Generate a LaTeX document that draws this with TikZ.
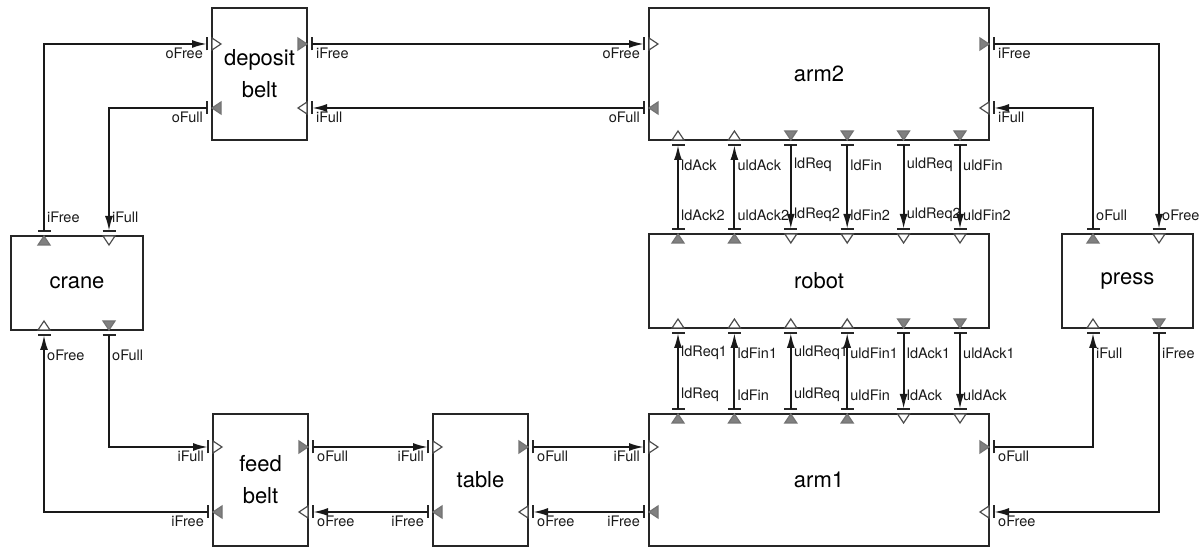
\documentclass[tikz,border=0pt]{standalone}
\usepackage{fontspec}
\setmainfont{TeX Gyre Heros}
\usepackage{tikz}
\usetikzlibrary{arrows.meta,positioning,calc}
\tikzset{
  block/.style={rectangle, draw=black!85, line width=2pt, inner sep=0pt, outer sep=0pt, align=center, font=\fontsize{22}{32}\selectfont},
  armblock/.style={block, minimum width=340pt, minimum height=132pt},
  beltblock/.style={block, minimum width=95pt, minimum height=132pt},
  smallblock/.style={block, minimum width=131pt, minimum height=94pt},
  flow/.style={-{Latex[length=15pt,width=8pt]}, line width=2pt, black!90, shorten <=5pt, shorten >=5pt},
  inport/.style={draw=black!70, fill=white, line width=1.2pt},
  outport/.style={draw=black!55, fill=black!50, line width=1.2pt},
  portbar/.style={draw=black!85, line width=1.6pt},
  plab/.style={font=\fontsize{14.5}{16}\selectfont, inner sep=0pt, text=black!90},
  labw/.style={plab, anchor=north east, xshift=-9pt, yshift=-4pt},
  labe/.style={plab, anchor=north west, xshift=9pt, yshift=-4pt},
  labn/.style={plab, anchor=west, xshift=3pt, yshift=19pt},
  labs/.style={plab, anchor=west, xshift=3pt, yshift=-25pt}
}
\newcommand{\portin}[2]{%
  \draw[inport, shift={(#1)}, rotate=#2] (0,-6) -- (9,0) -- (0,6) -- cycle;
  \draw[portbar, shift={(#1)}, rotate=#2] (-5,-6.5) -- (-5,6.5);}
\newcommand{\portout}[2]{%
  \draw[outport, shift={(#1)}, rotate=#2] (0,0) -- (-9,-6) -- (-9,6) -- cycle;
  \draw[portbar, shift={(#1)}, rotate=#2] (5,-6.5) -- (5,6.5);}

\begin{document}
\begin{tikzpicture}[x=1pt, y=1pt]
\useasboundingbox (0,0) rectangle (1203,548);

\node[armblock] (arm2) at (819,474) {arm2};
\node[armblock, minimum height=94pt, below=94pt of arm2] (robot) {robot};
\node[armblock, below=86pt of robot] (arm1) {arm1};
\node[smallblock, right=73pt of robot] (press) {press};
\node[smallblock, minimum width=132pt] (crane) at (77,265) {crane};
\node[beltblock, left=342pt of arm2] (deposit) {deposit\\belt};
\node[beltblock, left=121pt of arm1] (table) {table};
\node[beltblock, left=125pt of table] (feed) {feed\\belt};

\coordinate (cr-iFree) at ($(crane.north west)+(33,0)$);
\coordinate (cr-iFull) at ($(crane.north east)+(-34,0)$);
\coordinate (cr-oFree) at ($(crane.south west)+(33,0)$);
\coordinate (cr-oFull) at ($(crane.south east)+(-34,0)$);
\coordinate (pr-oFull) at ($(press.north west)+(31,0)$);
\coordinate (pr-oFree) at ($(press.north east)+(-34,0)$);
\coordinate (pr-iFull) at ($(press.south west)+(31,0)$);
\coordinate (pr-iFree) at ($(press.south east)+(-34,0)$);
\coordinate (dep-oFree) at ($(deposit.north west)+(0,-36)$);
\coordinate (dep-oFull) at ($(deposit.south west)+(0,32)$);
\coordinate (dep-iFree) at ($(deposit.north east)+(0,-36)$);
\coordinate (dep-iFull) at ($(deposit.south east)+(0,32)$);
\coordinate (a2-oFree) at ($(arm2.north west)+(0,-36)$);
\coordinate (a2-oFull) at ($(arm2.south west)+(0,32)$);
\coordinate (a2-iFree) at ($(arm2.north east)+(0,-36)$);
\coordinate (a2-iFull) at ($(arm2.south east)+(0,32)$);
\coordinate (fb-iFull) at ($(feed.north west)+(0,-33)$);
\coordinate (fb-iFree) at ($(feed.south west)+(0,34)$);
\coordinate (fb-oFull) at ($(feed.north east)+(0,-33)$);
\coordinate (fb-oFree) at ($(feed.south east)+(0,34)$);
\coordinate (tb-iFull) at ($(table.north west)+(0,-33)$);
\coordinate (tb-iFree) at ($(table.south west)+(0,34)$);
\coordinate (tb-oFull) at ($(table.north east)+(0,-33)$);
\coordinate (tb-oFree) at ($(table.south east)+(0,34)$);
\coordinate (a1-iFull) at ($(arm1.north west)+(0,-33)$);
\coordinate (a1-iFree) at ($(arm1.south west)+(0,34)$);
\coordinate (a1-oFull) at ($(arm1.north east)+(0,-33)$);
\coordinate (a1-oFree) at ($(arm1.south east)+(0,34)$);

\portout{cr-iFree}{90} \portin{dep-oFree}{0}
\draw[flow] (cr-iFree) |- (dep-oFree);
\portout{dep-oFull}{180} \portin{cr-iFull}{270}
\draw[flow] (dep-oFull) -| (cr-iFull);
\portout{dep-iFree}{0} \portin{a2-oFree}{0}
\draw[flow] (dep-iFree) -- (a2-oFree);
\portout{a2-oFull}{180} \portin{dep-iFull}{180}
\draw[flow] (a2-oFull) -- (dep-iFull);
\portout{a2-iFree}{0} \portin{pr-oFree}{270}
\draw[flow] (a2-iFree) -| (pr-oFree);
\portout{pr-oFull}{90} \portin{a2-iFull}{180}
\draw[flow] (pr-oFull) |- (a2-iFull);

\portout{cr-oFull}{270} \portin{fb-iFull}{0}
\draw[flow] (cr-oFull) |- (fb-iFull);
\portout{fb-iFree}{180} \portin{cr-oFree}{90}
\draw[flow] (fb-iFree) -| (cr-oFree);
\portout{fb-oFull}{0} \portin{tb-iFull}{0}
\draw[flow] (fb-oFull) -- (tb-iFull);
\portout{tb-iFree}{180} \portin{fb-oFree}{180}
\draw[flow] (tb-iFree) -- (fb-oFree);
\portout{tb-oFull}{0} \portin{a1-iFull}{0}
\draw[flow] (tb-oFull) -- (a1-iFull);
\portout{a1-iFree}{180} \portin{tb-oFree}{180}
\draw[flow] (a1-iFree) -- (tb-oFree);
\portout{a1-oFull}{0} \portin{pr-iFull}{90}
\draw[flow] (a1-oFull) -| (pr-iFull);
\portout{pr-iFree}{270} \portin{a1-oFree}{180}
\draw[flow] (pr-iFree) |- (a1-oFree);

\foreach \dx/\topname/\botname [count=\i] in {29/ldAck/ldAck2, 85.4/uldAck/uldAck2} {
  \coordinate (a2-b\i) at ($(arm2.south west)+(\dx,0)$);
  \coordinate (ro-t\i) at ($(robot.north west)+(\dx,0)$);
  \portout{ro-t\i}{90} \portin{a2-b\i}{90}
  \draw[flow] (ro-t\i) -- (a2-b\i);
  \node[labs] (la2-\i) at (a2-b\i) {\topname};
  \node[labn] (lrt-\i) at (ro-t\i) {\botname};
}
\foreach \dx/\topname/\botname [count=\i from 3] in {141.8/ldReq/ldReq2, 198.2/ldFin/ldFin2, 254.6/uldReq/uldReq2, 311/uldFin/uldFin2} {
  \coordinate (a2-b\i) at ($(arm2.south west)+(\dx,0)$);
  \coordinate (ro-t\i) at ($(robot.north west)+(\dx,0)$);
  \portout{a2-b\i}{270} \portin{ro-t\i}{270}
  \draw[flow] (a2-b\i) -- (ro-t\i);
  \node[labs] (la2-\i) at (a2-b\i) {\topname};
  \node[labn] (lrt-\i) at (ro-t\i) {\botname};
}
\foreach \dx/\topname/\botname [count=\i] in {29/ldReq1/ldReq, 85.4/ldFin1/ldFin, 141.8/uldReq1/uldReq, 198.2/uldFin1/uldFin} {
  \coordinate (ro-b\i) at ($(robot.south west)+(\dx,0)$);
  \coordinate (a1-t\i) at ($(arm1.north west)+(\dx,0)$);
  \portout{a1-t\i}{90} \portin{ro-b\i}{90}
  \draw[flow] (a1-t\i) -- (ro-b\i);
  \node[labs] (lrb-\i) at (ro-b\i) {\topname};
  \node[labn] (la1-\i) at (a1-t\i) {\botname};
}
\foreach \dx/\topname/\botname [count=\i from 5] in {254.6/ldAck1/ldAck, 311/uldAck1/uldAck} {
  \coordinate (ro-b\i) at ($(robot.south west)+(\dx,0)$);
  \coordinate (a1-t\i) at ($(arm1.north west)+(\dx,0)$);
  \portout{ro-b\i}{270} \portin{a1-t\i}{270}
  \draw[flow] (ro-b\i) -- (a1-t\i);
  \node[labs] (lrb-\i) at (ro-b\i) {\topname};
  \node[labn] (la1-\i) at (a1-t\i) {\botname};
}

\node[labn] (l-cr-iFree) at (cr-iFree) {iFree};
\node[labn] (l-cr-iFull) at (cr-iFull) {iFull};
\node[labs] (l-cr-oFree) at (cr-oFree) {oFree};
\node[labs] (l-cr-oFull) at (cr-oFull) {oFull};
\node[labn] (l-pr-oFull) at (pr-oFull) {oFull};
\node[labn] (l-pr-oFree) at (pr-oFree) {oFree};
\node[labs] (l-pr-iFull) at (pr-iFull) {iFull};
\node[labs] (l-pr-iFree) at (pr-iFree) {iFree};
\node[labw] (l-dep-oFree) at (dep-oFree) {oFree};
\node[labw] (l-dep-oFull) at (dep-oFull) {oFull};
\node[labe] (l-dep-iFree) at (dep-iFree) {iFree};
\node[labe] (l-dep-iFull) at (dep-iFull) {iFull};
\node[labw] (l-a2-oFree) at (a2-oFree) {oFree};
\node[labw] (l-a2-oFull) at (a2-oFull) {oFull};
\node[labe] (l-a2-iFree) at (a2-iFree) {iFree};
\node[labe] (l-a2-iFull) at (a2-iFull) {iFull};
\node[labw] (l-fb-iFull) at (fb-iFull) {iFull};
\node[labw] (l-fb-iFree) at (fb-iFree) {iFree};
\node[labe] (l-fb-oFull) at (fb-oFull) {oFull};
\node[labe] (l-fb-oFree) at (fb-oFree) {oFree};
\node[labw] (l-tb-iFull) at (tb-iFull) {iFull};
\node[labw] (l-tb-iFree) at (tb-iFree) {iFree};
\node[labe] (l-tb-oFull) at (tb-oFull) {oFull};
\node[labe] (l-tb-oFree) at (tb-oFree) {oFree};
\node[labw] (l-a1-iFull) at (a1-iFull) {iFull};
\node[labw] (l-a1-iFree) at (a1-iFree) {iFree};
\node[labe] (l-a1-oFull) at (a1-oFull) {oFull};
\node[labe] (l-a1-oFree) at (a1-oFree) {oFree};

\end{tikzpicture}
\end{document}
